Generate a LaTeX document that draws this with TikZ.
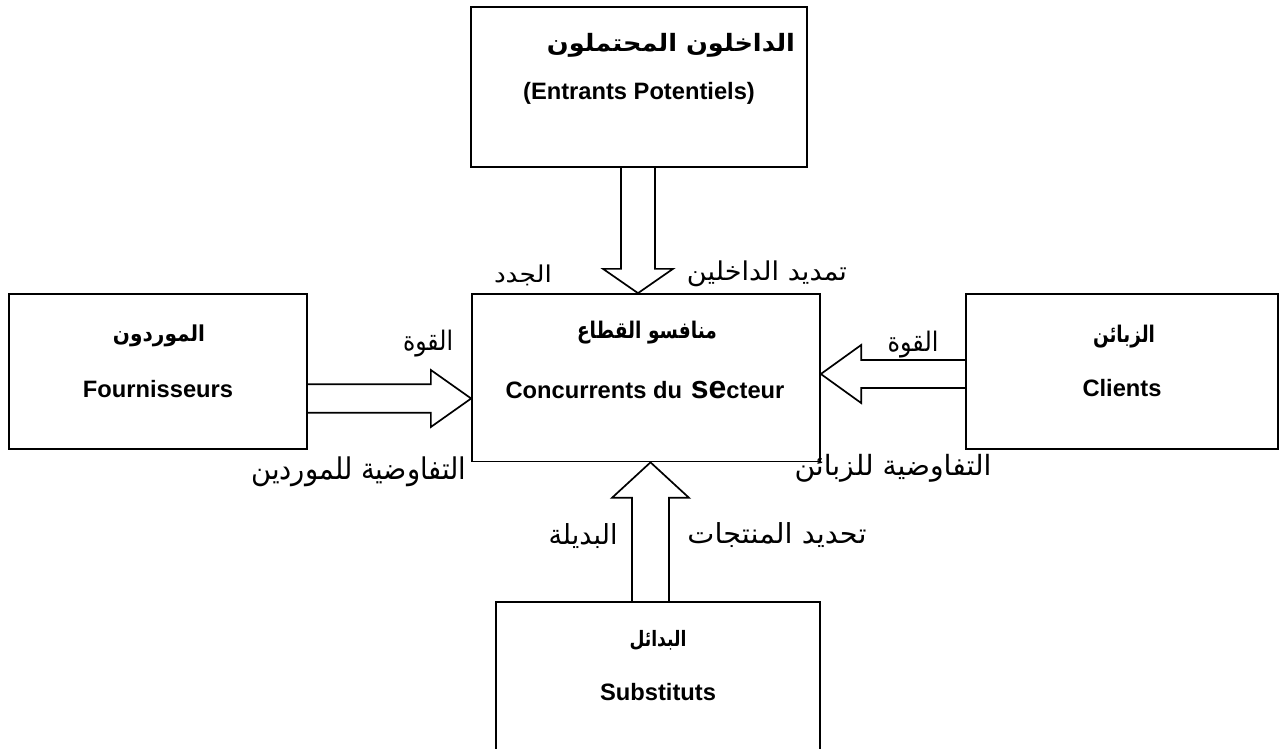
\documentclass[tikz,border=0pt]{standalone}
\usepackage{fontspec}
\setmainfont{Liberation Sans}
\newfontfamily\arabicfont[Script=Arabic]{DejaVu Sans}
\TeXXeTstate=1
\usetikzlibrary{calc}
\begin{document}
\begin{tikzpicture}[x=1pt,y=-1pt,
  box/.style={draw, line width=1.7pt, inner sep=0pt},
  blk/.style={draw, line width=1.7pt, line join=miter},
  lat/.style={inner sep=0pt, font=\fontsize{23.7}{28}\selectfont\bfseries},
  ttl/.style={inner sep=0pt},
  lbl/.style={inner sep=0pt}]
\useasboundingbox (0,0) rectangle (1283,749);
% boxes
\node[box, minimum width=336pt, minimum height=160pt] (T) at (639,87) {};
\node[box, minimum width=348pt, minimum height=167.5pt] (C) at (646,377.75) {};
\node[box, minimum width=298pt, minimum height=155pt] (L) at (158,371.5) {};
\node[box, minimum width=312pt, minimum height=155pt] (R) at (1122,371.5) {};
\node[inner sep=0pt, minimum width=324pt, minimum height=147pt] (B) at (658,675.5) {};
\draw[line width=1.7pt] (B.south west) -- (B.north west) -- (B.north east) -- (B.south east);
% box texts
\node[ttl] (Ta) at (671,45) {\resizebox*{248pt}{24pt}{\arabicfont\bfseries\beginR الداخلون المحتملون\endR}};
\node[lat] (Tl) at (639,93.3) {(Entrants Potentiels)};
\node[ttl] (Ca) at (647,333) {\resizebox*{140pt}{23pt}{\arabicfont\bfseries\beginR منافسو القطاع\endR}};
\node[lat] (Cl) at (645,390) {Concurrents du{\fontsize{32}{32}\selectfont\ se}cteur};
\node[ttl] (La) at (159,336) {\resizebox*{92pt}{22pt}{\arabicfont\bfseries\beginR الموردون\endR}};
\node[lat] (Ll) at (158,389) {Fournisseurs};
\node[ttl] (Ra) at (1124,337) {\resizebox*{62pt}{23pt}{\arabicfont\bfseries\beginR الزبائن\endR}};
\node[lat] (Rl) at (1122,388) {Clients};
\node[ttl] (Ba) at (658,640) {\resizebox*{57pt}{20pt}{\arabicfont\bfseries\beginR البدائل\endR}};
\node[lat] (Bl) at (658,691.7) {Substituts};
% block arrows
\coordinate (ta) at ($(T.south)+(-1,0)$);
\draw[blk] ($(ta)+(-17,0)$) -- ++(0,101) -- ++(-18,0) -- (ta |- C.north)
  -- ($(ta)+(35,101)$) -- ++(-18,0) -- ($(ta)+(17,0)$);
\coordinate (la) at ($(L.east)+(0,27)$);
\draw[blk] ($(la)+(0,-14.25)$) -- ++(123,0) -- ++(0,-14.25) -- (la -| C.west)
  -- ($(la)+(123,28.5)$) -- ++(0,-14.25) -- ($(la)+(0,14.25)$);
\coordinate (ra) at ($(R.west)+(0,2.5)$);
\draw[blk] ($(ra)+(0,-14)$) -- ++(-104,0) -- ++(0,-15) -- (ra -| C.east)
  -- ($(ra)+(-104,29)$) -- ++(0,-15) -- ($(ra)+(0,14)$);
\coordinate (ba) at ($(B.north)+(-7.5,0)$);
\draw[blk] ($(ba)+(-18.5,0)$) -- ++(0,-104) -- ++(-20,0) -- (ba |- C.south)
  -- ($(ba)+(38.5,-104)$) -- ++(-20,0) -- ($(ba)+(18.5,0)$);
% labels
\node[lbl] (l1) at (523,275) {\resizebox*{58pt}{21pt}{\arabicfont\beginR الجدد\endR}};
\node[lbl] (l2) at (767,274) {\resizebox*{160pt}{26pt}{\arabicfont\beginR تمديد الداخلين\endR}};
\node[lbl] (l3) at (428,344) {\resizebox*{50pt}{27pt}{\arabicfont\beginR القوة\endR}};
\node[lbl] (l4) at (913,345) {\resizebox*{51pt}{27pt}{\arabicfont\beginR القوة\endR}};
\node[lbl] (l5) at (359,472) {\resizebox*{215pt}{30pt}{\arabicfont\beginR التفاوضية للموردين\endR}};
\node[lbl] (l6) at (893,468) {\resizebox*{197pt}{28pt}{\arabicfont\beginR التفاوضية للزبائن\endR}};
\node[lbl] (l7) at (583,536) {\resizebox*{69pt}{25pt}{\arabicfont\beginR البديلة\endR}};
\node[lbl] (l8) at (777,535) {\resizebox*{179pt}{25pt}{\arabicfont\beginR تحديد المنتجات\endR}};
\end{tikzpicture}
\end{document}
